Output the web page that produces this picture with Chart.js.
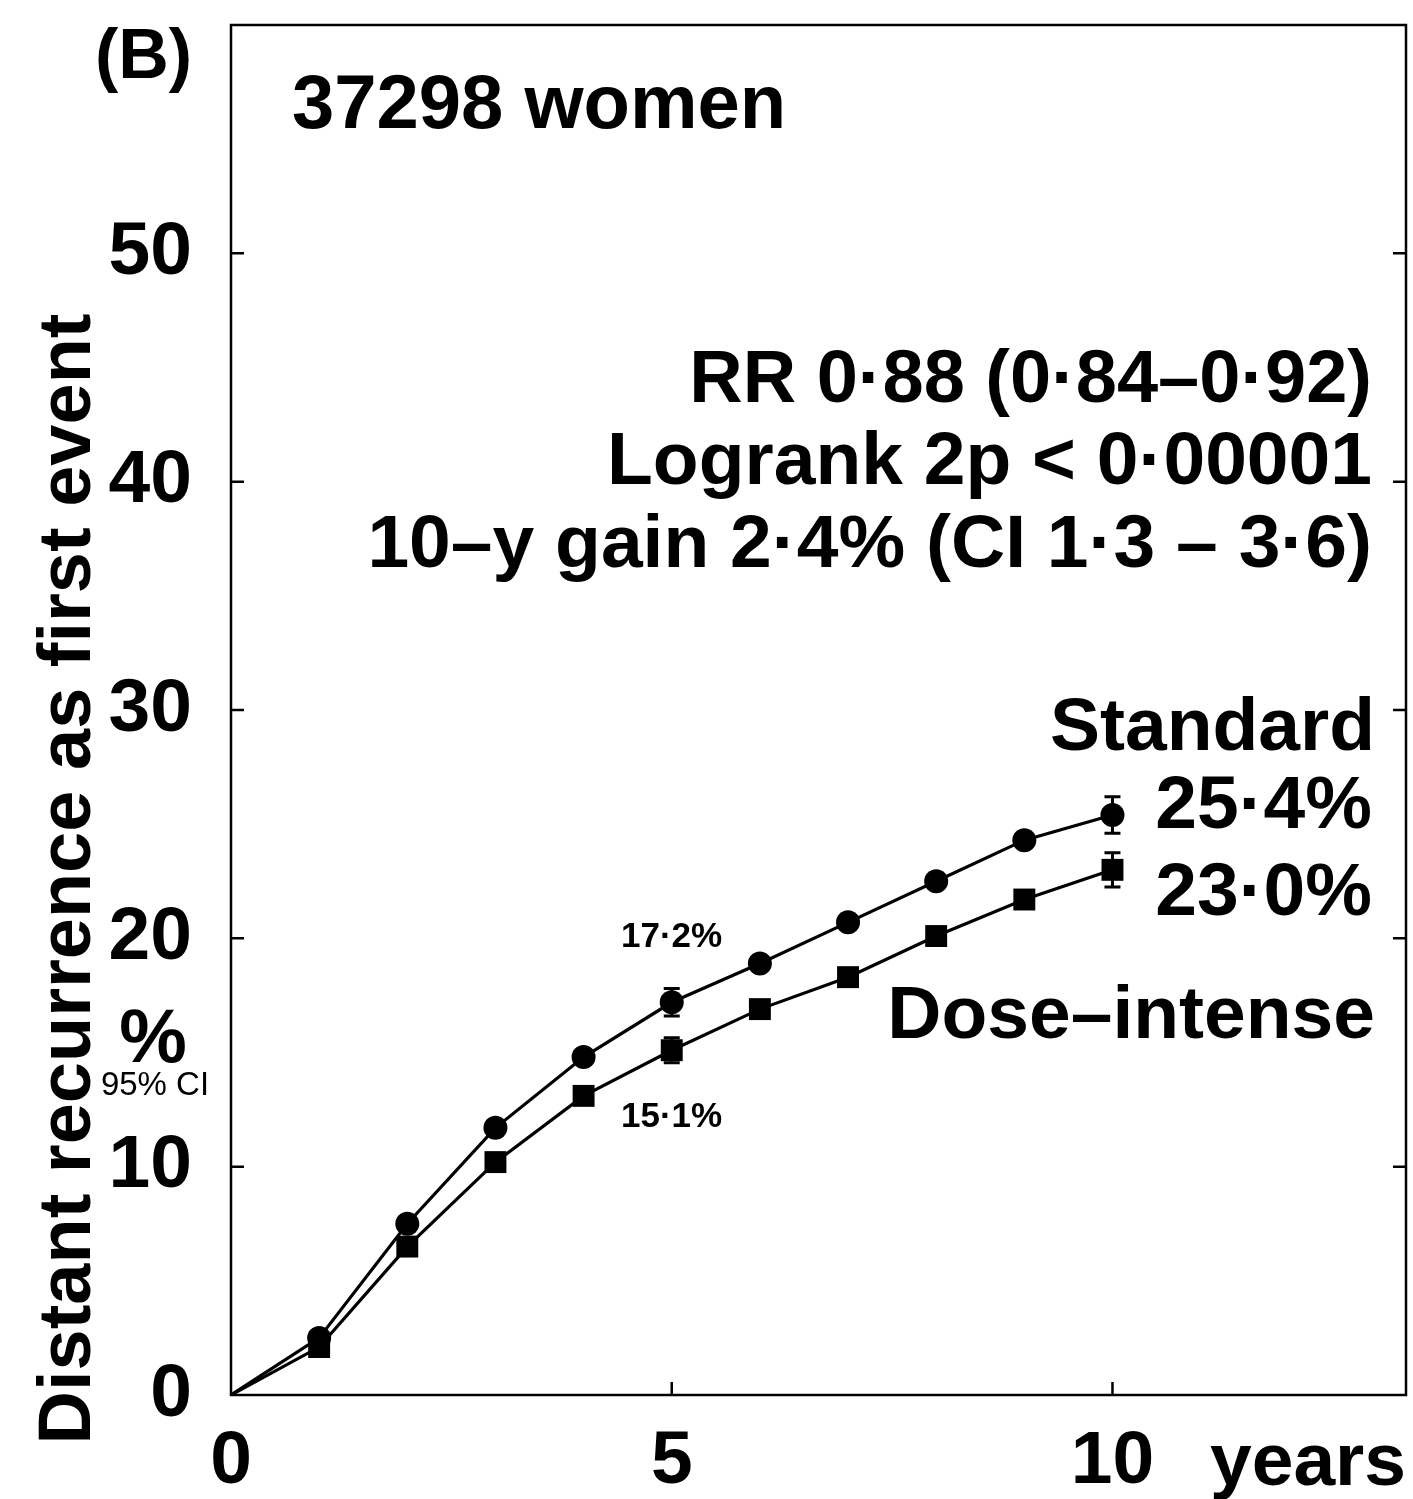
<!DOCTYPE html>
<html>
<head>
<meta charset="utf-8">
<script src="https://cdn.jsdelivr.net/npm/chart.js@4.4.1/dist/chart.umd.min.js"></script>
<style>
  html, body { margin: 0; padding: 0; background: #fff; }
  canvas { display: block; }
</style>
</head>
<body>
<canvas id="recurrenceChart" width="1413" height="1499"></canvas>
<script>
// distant recurrence (% as first event) by year of follow-up
const years = [0, 1, 2, 3, 4, 5, 6, 7, 8, 9, 10];
const standardPct = [0, 2.5, 7.5, 11.7, 14.8, 17.2, 18.9, 20.7, 22.5, 24.3, 25.4];
const doseIntensePct = [0, 2.1, 6.5, 10.2, 13.1, 15.1, 16.9, 18.3, 20.1, 21.7, 23.0];

// 95% CI shown at 5 and 10 years
const ciYears = [5, 10];
const standardCiLow = [16.6, 24.6];
const standardCiHigh = [17.8, 26.2];
const doseCiLow = [14.55, 22.25];
const doseCiHigh = [15.65, 23.75];

const xTicks = [0, 5, 10];
const yTicks = [0, 10, 20, 30, 40, 50];

const FONT = '"Liberation Sans", Arial, Helvetica, sans-serif';

const toPoints = vals => vals.map((v, i) => ({ x: years[i], y: v }));
const hideOrigin = r => ctx => ctx.dataIndex === 0 ? 0 : r;

const framePlugin = {
  id: 'frame',
  afterDatasetsDraw(chart) {
    const { ctx, chartArea: a, scales: { x, y } } = chart;
    ctx.save();
    ctx.strokeStyle = '#000';
    ctx.lineWidth = 2.5;
    ctx.strokeRect(a.left, a.top, a.right - a.left, a.bottom - a.top);

    // inward tick marks
    ctx.beginPath();
    yTicks.slice(1).forEach(v => {
      const py = y.getPixelForValue(v);
      ctx.moveTo(a.left, py); ctx.lineTo(a.left + 13, py);
      ctx.moveTo(a.right, py); ctx.lineTo(a.right - 13, py);
    });
    xTicks.slice(1).forEach(v => {
      const px = x.getPixelForValue(v);
      ctx.moveTo(px, a.bottom); ctx.lineTo(px, a.bottom - 13);
    });
    ctx.stroke();

    // confidence interval bars
    ctx.lineWidth = 3;
    const bar = (yr, lo, hi) => {
      const px = x.getPixelForValue(yr);
      const p1 = y.getPixelForValue(lo), p2 = y.getPixelForValue(hi);
      ctx.beginPath();
      ctx.moveTo(px, p1); ctx.lineTo(px, p2);
      ctx.moveTo(px - 8, p1); ctx.lineTo(px + 8, p1);
      ctx.moveTo(px - 8, p2); ctx.lineTo(px + 8, p2);
      ctx.stroke();
    };
    ciYears.forEach((yr, i) => {
      bar(yr, standardCiLow[i], standardCiHigh[i]);
      bar(yr, doseCiLow[i], doseCiHigh[i]);
    });

    // annotations
    ctx.fillStyle = '#000';
    const txt = (s, px, py, size, align, weight) => {
      ctx.font = `${weight || 'bold'} ${size}px ${FONT}`;
      ctx.textAlign = align || 'left';
      ctx.textBaseline = 'alphabetic';
      ctx.fillText(s, px, py);
    };
    txt('(B)', 95, 78, 70);
    txt('37298 women', 292, 128, 76);
    txt('RR 0·88 (0·84–0·92)', 1372, 402, 74, 'right');
    txt('Logrank 2p < 0·00001', 1372, 484, 75, 'right');
    txt('10–y gain 2·4% (CI 1·3 – 3·6)', 1372, 567, 75, 'right');
    txt('Standard', 1375, 750, 75, 'right');
    txt('25·4%', 1372, 828, 75, 'right');
    txt('23·0%', 1372, 915, 75, 'right');
    txt('Dose–intense', 1375, 1038, 75, 'right');
    txt('17·2%', 621, 947, 35);
    txt('15·1%', 621, 1127, 35);
    txt('%', 153, 1062, 76, 'center');
    txt('95% CI', 155, 1095, 33, 'center', 'normal');
    txt('years', 1406, 1485, 75, 'right');

    // y axis title
    ctx.translate(70, 879);
    ctx.rotate(-Math.PI / 2);
    ctx.font = `bold 74px ${FONT}`;
    ctx.textAlign = 'center';
    ctx.textBaseline = 'middle';
    ctx.fillText('Distant recurrence as first event', 0, 0);
    ctx.restore();
  }
};

new Chart(document.getElementById('recurrenceChart'), {
  type: 'line',
  data: {
    datasets: [
      {
        label: 'Standard',
        data: toPoints(standardPct),
        borderColor: '#000',
        backgroundColor: '#000',
        borderWidth: 3.2,
        pointStyle: 'circle',
        pointRadius: hideOrigin(12),
        pointBorderWidth: 0
      },
      {
        label: 'Dose-intense',
        data: toPoints(doseIntensePct),
        borderColor: '#000',
        backgroundColor: '#000',
        borderWidth: 3.2,
        pointStyle: 'rect',
        pointRadius: hideOrigin(15.5),
        pointBorderWidth: 0
      }
    ]
  },
  options: {
    responsive: false,
    animation: false,
    devicePixelRatio: 1,
    layout: { autoPadding: false, padding: { top: 25, right: 7, bottom: 0, left: 0 } },
    elements: { line: { tension: 0 } },
    plugins: { legend: { display: false }, tooltip: { enabled: false } },
    scales: {
      x: {
        type: 'linear',
        min: 0,
        max: 13.33,
        afterBuildTicks: s => { s.ticks = xTicks.map(v => ({ value: v })); },
        afterFit: s => { s.height = 104; s.paddingLeft = 0; s.paddingRight = 0; },
        grid: { display: false, drawTicks: false },
        border: { display: false },
        ticks: {
          color: '#000',
          padding: 22,
          maxRotation: 0,
          font: { family: FONT, size: 75, weight: 'bold' }
        }
      },
      y: {
        type: 'linear',
        min: 0,
        max: 60,
        afterBuildTicks: s => { s.ticks = yTicks.map(v => ({ value: v })); },
        afterFit: s => { s.width = 231; s.paddingTop = 0; s.paddingBottom = 0; },
        grid: { display: false, drawTicks: false },
        border: { display: false },
        ticks: {
          color: '#000',
          padding: 39,
          font: { family: FONT, size: 75, weight: 'bold' }
        }
      }
    }
  },
  plugins: [framePlugin]
});
</script>
</body>
</html>
